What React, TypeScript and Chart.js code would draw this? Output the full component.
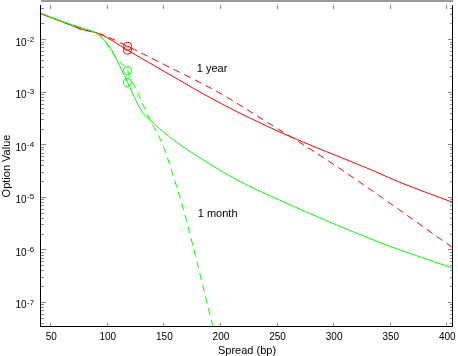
import React, { useEffect, useRef } from 'react';
import { Chart, registerables } from 'chart.js';

Chart.register(...registerables);

// ---- data (spread in bp, option value) ----
const oneYearSolidSpread = [41, 66, 75.5, 93, 117.5, 150, 199, 253, 334, 357.5, 405];
const oneYearSolidValue = [0.032, 0.02, 0.0166, 0.0132, 0.00649, 0.00255, 6.44e-4, 1.76e-4, 3.34e-5, 2.01e-5, 8.22e-6];

const oneYearDashedSpread = [41, 66, 75.5, 93, 117.5, 150, 199, 246, 265, 307.5, 342.7, 405];
const oneYearDashedValue = [0.032, 0.02, 0.0166, 0.0133, 0.00771, 0.00344, 9.9e-4, 2.35e-4, 1.32e-4, 3.34e-5, 1.0e-5, 1.12e-6];

const oneMonthSolidSpread = [41, 66, 84, 90.5, 95.8, 101.4, 103.5, 117.5, 130, 141.6, 159, 169.5, 212.1, 251.7, 339.8, 405];
const oneMonthSolidValue = [0.0325, 0.0205, 0.0154, 0.0134, 0.0105, 0.0076, 0.0065, 0.00158, 4.5e-4, 2.52e-4, 1.23e-4, 8.53e-5, 2.34e-5, 9.12e-6, 1.44e-6, 4.6e-7];

const oneMonthDashedSpread = [41, 66, 84, 93, 96, 107, 117.5, 122.5, 137.2, 148.9, 157.7, 166.6, 193];
const oneMonthDashedValue = [0.0325, 0.0205, 0.0154, 0.0128, 0.0107, 0.0048, 0.00266, 0.00153, 3.13e-4, 9.88e-5, 2.69e-5, 6.3e-6, 3.5e-8];

const markerSpread = 117.5;
const oneYearMarkerValues = [0.00771, 0.00649];
const oneMonthMarkerValues = [0.00266, 0.00158];

const xTickValues = [50, 100, 150, 200, 250, 300, 350, 400];
const yMajorExponents = [-2, -3, -4, -5, -6, -7];

const annotations = [
  { text: '1 year', spread: 178.6, value: 0.00281 },
  { text: '1 month', spread: 179.5, value: 4.93e-6 },
];

const X_MIN = 41;
const X_MAX = 405;
const Y_MIN = 3.5e-8;
const Y_MAX = 0.047;

const RED = '#ff0000';
const GREEN = '#00ff00';
const FONT = '"Liberation Sans", Arial, Helvetica, sans-serif';

const toPoints = (xs: number[], ys: number[]) => xs.map((x, i) => ({ x, y: ys[i] }));

const matlabAxes = {
  id: 'matlabAxes',
  afterDraw(chart: any) {
    const { ctx, chartArea, scales } = chart;
    const { left, right, top, bottom } = chartArea;
    const xs = scales.x;
    const ys = scales.y;
    ctx.save();

    // tick marks (inward)
    ctx.strokeStyle = '#8a8a8a';
    ctx.lineWidth = 1;
    ctx.beginPath();
    for (const v of xTickValues) {
      const px = Math.round(xs.getPixelForValue(v)) - 0.5;
      ctx.moveTo(px, bottom);
      ctx.lineTo(px, bottom - 4);
      ctx.moveTo(px, top);
      ctx.lineTo(px, top + 4);
    }
    for (let k = -9; k <= -1; k++) {
      for (let m = 1; m <= 9; m++) {
        const v = m * Math.pow(10, k);
        if (v < Y_MIN || v > Y_MAX) continue;
        const py = Math.round(ys.getPixelForValue(v)) - 0.5;
        const len = m === 1 ? 5 : 3;
        ctx.moveTo(left, py);
        ctx.lineTo(left + len, py);
        ctx.moveTo(right, py);
        ctx.lineTo(right - len, py);
      }
    }
    ctx.stroke();

    // box
    ctx.strokeStyle = '#000';
    ctx.beginPath();
    ctx.moveTo(left - 0.5, top);
    ctx.lineTo(left - 0.5, bottom);
    ctx.moveTo(left - 1, bottom - 0.5);
    ctx.lineTo(right, bottom - 0.5);
    ctx.moveTo(right - 0.5, top);
    ctx.lineTo(right - 0.5, bottom);
    ctx.stroke();
    ctx.fillStyle = '#9a9a9a';
    ctx.fillRect(left, 0, right - left, 2);

    // x tick labels
    ctx.fillStyle = '#000';
    ctx.font = `10px ${FONT}`;
    ctx.textAlign = 'center';
    ctx.textBaseline = 'middle';
    for (const v of xTickValues) {
      ctx.fillText(String(v), xs.getPixelForValue(v), 337);
    }

    // y tick labels 10^e
    for (const e of yMajorExponents) {
      const py = ys.getPixelForValue(Math.pow(10, e));
      ctx.font = `10px ${FONT}`;
      ctx.textAlign = 'right';
      ctx.textBaseline = 'alphabetic';
      ctx.fillText('10', 26.5, py + 5.3);
      ctx.font = `8px ${FONT}`;
      ctx.textAlign = 'left';
      ctx.fillText(String(e), 27, py + 1.5);
    }

    // axis titles
    ctx.font = `11px ${FONT}`;
    ctx.textAlign = 'center';
    ctx.textBaseline = 'middle';
    ctx.fillText('Spread (bp)', (left + right) / 2, 351);
    ctx.save();
    ctx.translate(7, (top + bottom) / 2);
    ctx.rotate(-Math.PI / 2);
    ctx.fillText('Option Value', 0, 0);
    ctx.restore();

    // curve annotations
    ctx.textAlign = 'left';
    for (const a of annotations) {
      ctx.fillText(a.text, xs.getPixelForValue(a.spread), ys.getPixelForValue(a.value));
    }
    ctx.restore();
  },
};

export default function App() {
  const ref = useRef<HTMLCanvasElement | null>(null);

  useEffect(() => {
    document.body.style.margin = '0';
    const canvas = ref.current;
    if (!canvas) return;
    const lineBase = {
      pointRadius: 0,
      borderWidth: 1,
      fill: false,
      cubicInterpolationMode: 'monotone' as const,
    };
    const chart = new Chart(canvas, {
      type: 'line',
      data: {
        datasets: [
          {
            ...lineBase,
            data: toPoints(oneMonthSolidSpread, oneMonthSolidValue),
            borderColor: GREEN,
          },
          {
            ...lineBase,
            data: toPoints(oneMonthDashedSpread, oneMonthDashedValue),
            borderColor: GREEN,
            borderDash: [7, 5],
          },
          {
            ...lineBase,
            data: toPoints(oneYearSolidSpread, oneYearSolidValue),
            borderColor: RED,
          },
          {
            ...lineBase,
            data: toPoints(oneYearDashedSpread, oneYearDashedValue),
            borderColor: RED,
            borderDash: [7, 5],
          },
          {
            type: 'scatter' as const,
            data: oneYearMarkerValues.map((y) => ({ x: markerSpread, y })),
            showLine: false,
            pointRadius: 4,
            pointStyle: 'circle',
            pointBorderWidth: 1,
            pointBorderColor: RED,
            pointBackgroundColor: 'rgba(0,0,0,0)',
            borderColor: RED,
          } as any,
          {
            type: 'scatter' as const,
            data: oneMonthMarkerValues.map((y) => ({ x: markerSpread, y })),
            showLine: false,
            pointRadius: 4,
            pointStyle: 'circle',
            pointBorderWidth: 1,
            pointBorderColor: GREEN,
            pointBackgroundColor: 'rgba(0,0,0,0)',
            borderColor: GREEN,
          } as any,
        ],
      },
      options: {
        animation: false,
        responsive: false,
        maintainAspectRatio: false,
        layout: { padding: { top: 1, right: 4, left: 0, bottom: 0 } },
        plugins: { legend: { display: false }, tooltip: { enabled: false } },
        elements: { point: { hoverRadius: 0 } },
        events: [],
        scales: {
          x: {
            type: 'linear',
            min: X_MIN,
            max: X_MAX,
            grid: { display: false, drawTicks: false },
            border: { display: false },
            ticks: { display: false },
            afterFit: (s: any) => {
              s.height = 29;
            },
          },
          y: {
            type: 'logarithmic',
            min: Y_MIN,
            max: Y_MAX,
            grid: { display: false, drawTicks: false },
            border: { display: false },
            ticks: { display: false },
            afterFit: (s: any) => {
              s.width = 41;
            },
          },
        },
      },
      plugins: [matlabAxes],
    });
    return () => chart.destroy();
  }, []);

  return (
    <div style={{ width: 458, height: 356, position: 'relative', background: '#fff' }}>
      <canvas ref={ref} width={458} height={356} style={{ display: 'block' }} />
    </div>
  );
}
